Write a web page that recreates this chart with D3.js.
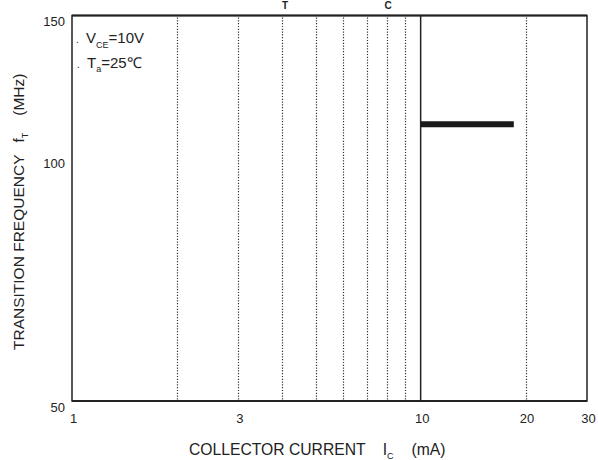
<!DOCTYPE html>
<html>
<head>
<meta charset="utf-8">
<script src="https://cdn.jsdelivr.net/npm/d3@7"></script>
<style>
  body { margin: 0; background: #fff; }
  svg { font-family: "Liberation Sans", Arial, sans-serif; }
</style>
</head>
<body>
<div class="chart"></div>
<script>
// axis ticks
var xTicks = [1, 3, 10, 20, 30];
var yTicks = [50, 100, 150];
// dotted vertical grid positions (mA)
var gridX = [2, 3, 4, 5, 6, 7, 8, 9, 20];
// the one curve segment that survived in the scan
var icVals = [10, 18.5];
var ftVals = [110, 110];

var width = 598, height = 460;

var svg = d3.select(".chart").append("svg")
  .attr("width", width)
  .attr("height", height);

var xScale = d3.scaleLog().domain([1, 30]).range([72, 587]);
var yScale = d3.scaleLog().domain([50, 150]).range([401, 15.5]);

// gridlines
svg.append("g").selectAll("line")
  .data(gridX)
  .enter().append("line")
  .attr("x1", function (d) { return Math.round(xScale(d)) + 0.5; })
  .attr("x2", function (d) { return Math.round(xScale(d)) + 0.5; })
  .attr("y1", yScale(150) + 2)
  .attr("y2", yScale(50))
  .attr("stroke", "#333")
  .attr("stroke-width", 1.2)
  .attr("stroke-dasharray", "1.2,1.6");

// frame
svg.append("rect")
  .attr("x", xScale(1))
  .attr("y", yScale(150))
  .attr("width", xScale(30) - xScale(1))
  .attr("height", yScale(50) - yScale(150))
  .attr("fill", "none")
  .attr("stroke", "#222")
  .attr("stroke-width", 1.5);

// top and bottom edges are a bit heavier
svg.append("line")
  .attr("x1", xScale(1)).attr("x2", xScale(30))
  .attr("y1", yScale(150)).attr("y2", yScale(150))
  .attr("stroke", "#222").attr("stroke-width", 2);
svg.append("line")
  .attr("x1", xScale(1)).attr("x2", xScale(30))
  .attr("y1", yScale(50)).attr("y2", yScale(50))
  .attr("stroke", "#222").attr("stroke-width", 2);

// divider at 10 mA
svg.append("line")
  .attr("x1", xScale(10)).attr("x2", xScale(10))
  .attr("y1", yScale(150)).attr("y2", yScale(50))
  .attr("stroke", "#222").attr("stroke-width", 1.5);

// data segment
var lineGen = d3.line()
  .x(function (d) { return xScale(d[0]); })
  .y(function (d) { return yScale(d[1]); });

svg.append("path")
  .attr("d", lineGen(d3.zip(icVals, ftVals)))
  .attr("stroke", "#1a1a1a")
  .attr("stroke-width", 6)
  .attr("fill", "none");

// x axis labels
var xAxis = d3.axisBottom(xScale)
  .tickValues(xTicks)
  .tickSize(0)
  .tickPadding(0)
  .tickFormat(d3.format("d"));

var gx = svg.append("g")
  .attr("transform", "translate(1," + 414 + ")")
  .call(xAxis);
gx.select(".domain").remove();
gx.selectAll("text")
  .attr("font-family", "Liberation Sans, Arial, sans-serif")
  .attr("font-size", "13px")
  .attr("fill", "#222");

// y axis labels
var yAxis = d3.axisLeft(yScale)
  .tickValues(yTicks)
  .tickSize(0)
  .tickPadding(0)
  .tickFormat(d3.format("d"));

var gy = svg.append("g")
  .attr("transform", "translate(65,6)")
  .call(yAxis);
gy.select(".domain").remove();
gy.selectAll("text")
  .attr("font-family", "Liberation Sans, Arial, sans-serif")
  .attr("font-size", "13px")
  .attr("fill", "#222");

// x axis title
var xt = svg.append("text")
  .attr("x", 189)
  .attr("y", 455)
  .attr("font-size", "15.7px")
  .attr("fill", "#222");
xt.append("tspan").text("COLLECTOR CURRENT");
xt.append("tspan").attr("dx", 17).text("I");
xt.append("tspan").attr("dy", 4).attr("font-size", "9px").text("C");
xt.append("tspan").attr("dx", 18).attr("dy", -4).text("(mA)");

// y axis title
var yt = svg.append("text")
  .attr("transform", "translate(24,350) rotate(-90)")
  .attr("font-size", "15.5px")
  .attr("fill", "#222");
yt.append("tspan").text("TRANSITION FREQUENCY");
yt.append("tspan").attr("dx", 12).text("f");
yt.append("tspan").attr("dy", 4).attr("font-size", "9px").text("T");
yt.append("tspan").attr("dx", 17).attr("dy", -4).text("(MHz)");

// chart title, only the subscripts show at the top edge
svg.append("text")
  .attr("x", 285).attr("y", 8.5)
  .attr("text-anchor", "middle")
  .attr("font-size", "10px").attr("font-weight", "bold")
  .attr("fill", "#222")
  .text("T");
svg.append("text")
  .attr("x", 388).attr("y", 8.5)
  .attr("text-anchor", "middle")
  .attr("font-size", "10px").attr("font-weight", "bold")
  .attr("fill", "#222")
  .text("C");

// conditions
var c1 = svg.append("text").attr("x", 76).attr("y", 43)
  .attr("font-size", "15px").attr("fill", "#222");
c1.append("tspan").attr("font-size", "10px").text(".");
c1.append("tspan").attr("x", 86).text("V");
c1.append("tspan").attr("dy", 5).attr("font-size", "9px").text("CE");
c1.append("tspan").attr("dy", -5).text("=10V");

var c2 = svg.append("text").attr("x", 77).attr("y", 68)
  .attr("font-size", "15px").attr("fill", "#222");
c2.append("tspan").attr("font-size", "10px").text(".");
c2.append("tspan").attr("x", 87).text("T");
c2.append("tspan").attr("dy", 4).attr("font-size", "9px").text("a");
c2.append("tspan").attr("dy", -4).text("=25\u2103");
</script>
</body>
</html>
